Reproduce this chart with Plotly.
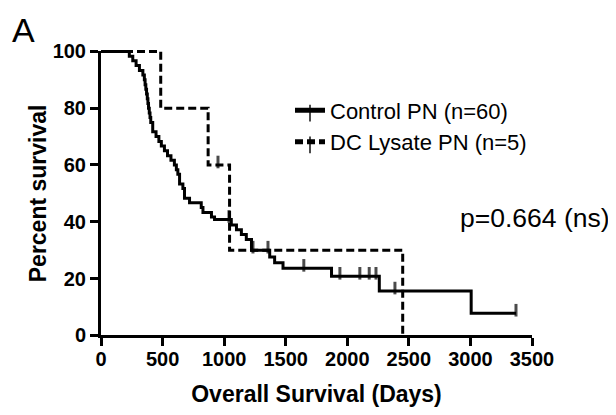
import plotly.graph_objects as go

# ---------------- data ----------------
control_event_days = [230, 258, 285, 312, 340, 352, 358, 364, 370, 376, 381, 386, 392, 398, 404,
                      420, 447, 470, 490, 515, 540, 568, 596, 612, 624, 638, 665, 678, 692,
                      719, 814, 828, 897, 922, 1058, 1100, 1140, 1180, 1222, 1370, 1410, 1478,
                      1872, 2260, 3006]
control_event_surv = [98.3, 96.7, 95.0, 93.3, 91.7, 90.0, 88.3, 86.7, 85.0, 83.3, 81.7, 80.0, 78.3,
                      76.7, 75.0, 71.7, 70.0, 68.3, 66.7, 65.0, 63.3, 61.7, 60.0, 58.3, 56.7, 53.3,
                      51.7, 48.3, 48.3, 46.7, 45.0, 43.3, 41.7, 40.8, 38.9, 37.2, 35.5, 33.8, 30.0,
                      27.6, 25.6, 23.6, 20.8, 15.6, 7.8]
control_censor_days = [1039, 1234, 1356, 1647, 1940, 2102, 2178, 2233, 2387, 3370]

dc_event_days = [485, 870, 1044, 2450]
dc_event_surv = [80.0, 60.0, 30.0, 0.0]
dc_censor_days = [950]

x_ticks = [0, 500, 1000, 1500, 2000, 2500, 3000, 3500]
y_ticks = [0, 20, 40, 60, 80, 100]

# ---------------- helpers ----------------
def km_points(event_days, event_surv, censor_days):
    pts = [(0.0, 100.0, False)]
    for d, s in zip(event_days, event_surv):
        pts.append((d, s, False))
    for c in censor_days:
        s = 100.0
        for d, sv in zip(event_days, event_surv):
            if d <= c:
                s = sv
        pts.append((c, s, True))
    pts.sort(key=lambda p: (p[0], not p[2]))
    xs = [p[0] for p in pts]
    ys = [p[1] for p in pts]
    sizes = [9 if p[2] else 0 for p in pts]
    return xs, ys, sizes

FONT = "Liberation Sans, Arial, Helvetica, sans-serif"
OFF = 8  # page body margin
W, H = 616 - OFF, 415 - OFF
ML, MR, MT, MB = 96 - OFF, 80, 46 - OFF, 71
PW, PH = W - ML - MR, H - MT - MB
# pixel positions (screen) of visible axes
X0PX, X1PX = 101.0 - OFF, 532.0 - OFF
Y0PX, Y1PX = 339.3 - OFF, 51.5 - OFF

def px(xs):
    return (xs - OFF - ML) / PW

def py(ys):
    return (H - MB - (ys - OFF)) / PH

dom_x = [(X0PX - ML) / PW, (X1PX - ML) / PW]
dom_y = [(H - MB - Y0PX) / PH, (H - MB - Y1PX) / PH]
ppx = (X1PX - X0PX) / (x_ticks[-1] - x_ticks[0])
ppy = (Y0PX - Y1PX) / (y_ticks[-1] - y_ticks[0])
rx2 = [x_ticks[0] - (X0PX - ML) / ppx, x_ticks[-1] + (ML + PW - X1PX) / ppx]
ry2 = [y_ticks[0] - (H - MB - Y0PX) / ppy, y_ticks[-1] + (Y1PX - MT) / ppy]

fig = go.Figure()

# empty trace so that the visible axis pair (x, y) is drawn
fig.add_trace(go.Scatter(x=[], y=[], xaxis="x", yaxis="y", showlegend=False, hoverinfo="skip"))

cx, cy, cs = km_points(control_event_days, control_event_surv, control_censor_days)
fig.add_trace(go.Scatter(
    x=cx, y=cy, mode="lines+markers", name="Control PN (n=60)",
    line=dict(color="black", width=3, shape="hv"),
    marker=dict(symbol="line-ns", size=cs, angle=180, standoff=3,
                line=dict(color="black", width=3)),
    xaxis="x2", yaxis="y2", hoverinfo="skip"))

dx, dy, ds = km_points(dc_event_days, dc_event_surv, dc_censor_days)
fig.add_trace(go.Scatter(
    x=dx, y=dy, mode="lines+markers", name="DC Lysate PN (n=5)",
    line=dict(color="black", width=3, shape="hv", dash="8px,4px"),
    marker=dict(symbol="line-ns", size=ds, angle=180, standoff=3,
                line=dict(color="black", width=3)),
    xaxis="x2", yaxis="y2", hoverinfo="skip"))

axis_common = dict(showline=True, linecolor="black", linewidth=3, ticks="outside",
                   ticklen=8, tickwidth=3, tickcolor="black", showgrid=False,
                   zeroline=False, mirror=False,
                   tickfont=dict(family=FONT, size=20, color="black", weight="bold"))

fig.update_layout(
    width=W, height=H,
    margin=dict(l=ML, r=MR, t=MT, b=MB, pad=0),
    paper_bgcolor="white", plot_bgcolor="rgba(0,0,0,0)",
    xaxis=dict(domain=dom_x, range=[x_ticks[0], x_ticks[-1]], tickvals=x_ticks,
               anchor="y", ticklabelstandoff=-4,
               title=dict(text="Overall Survival (Days)", standoff=17,
                          font=dict(family=FONT, size=23, color="black", weight="bold")),
               **axis_common),
    yaxis=dict(domain=dom_y, range=[y_ticks[0], y_ticks[-1]], tickvals=y_ticks,
               anchor="x",
               title=dict(text="Percent survival", standoff=0,
                          font=dict(family=FONT, size=23, color="black", weight="bold")),
               **axis_common),
    xaxis2=dict(domain=[0, 1], range=rx2, visible=False, anchor="y2"),
    yaxis2=dict(domain=[0, 1], range=ry2, visible=False, anchor="x2"),
    legend=dict(x=px(290), y=py(90), xanchor="left", yanchor="top",
                font=dict(family=FONT, size=22, color="black"),
                bgcolor="rgba(0,0,0,0)", itemsizing="constant"),
    showlegend=True,
    annotations=[
        dict(text="p=0.664 (ns)", xref="paper", yref="paper",
             x=px(458), y=py(220), xanchor="left", yanchor="middle",
             showarrow=False, font=dict(family=FONT, size=26.5, color="black")),
        dict(text="A", xref="paper", yref="paper",
             x=px(10), y=1.0 + MT / PH, xanchor="left", yanchor="top",
             showarrow=False, font=dict(family=FONT, size=34, color="black")),
    ],
)

fig.write_html("out.html")
